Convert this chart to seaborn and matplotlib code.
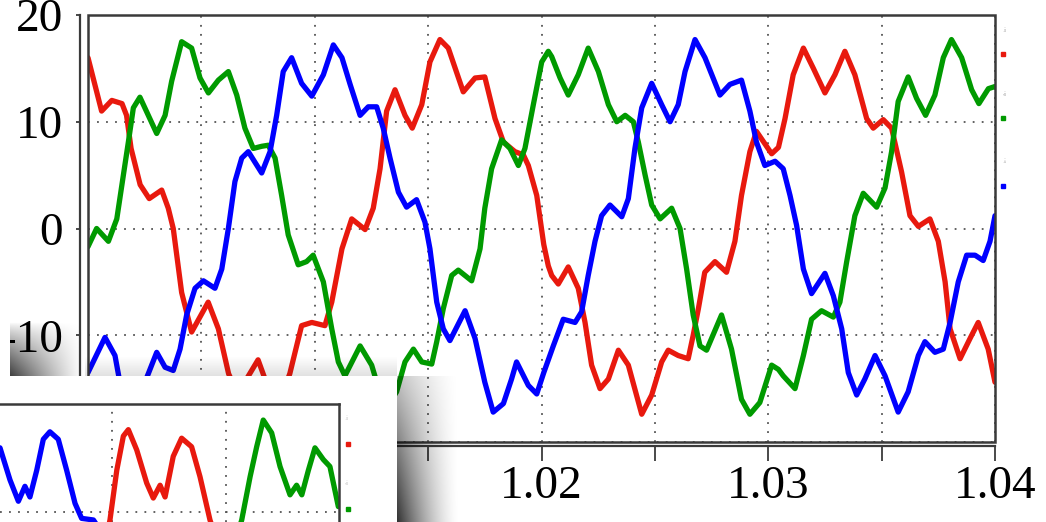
import numpy as np
import seaborn as sns
import matplotlib.pyplot as plt
from matplotlib.patches import Rectangle

# three phase currents (time in s, current in A)
red_t = [1.0000, 1.0006, 1.00105, 1.0015, 1.0017, 1.0019, 1.0023, 1.0027, 1.00325, 1.00354,
         1.00376, 1.00413, 1.00457, 1.0053, 1.00575, 1.0062, 1.0066, 1.0075, 1.0083, 1.0089,
         1.00942, 1.00987, 1.01045, 1.01075, 1.0112, 1.01163, 1.01222, 1.01258, 1.01288, 1.01317,
         1.01354, 1.01398, 1.0143, 1.01472, 1.01508, 1.01552, 1.01589, 1.01655, 1.01707, 1.0175,
         1.01795, 1.01832, 1.01883, 1.0192, 1.01942, 1.01979, 1.0201, 1.0203, 1.02045, 1.02074,
         1.02118, 1.02162, 1.02192, 1.02221, 1.02258, 1.02295, 1.02339, 1.02383, 1.02442, 1.02486,
         1.0253, 1.02559, 1.02603, 1.02647, 1.02669, 1.02692, 1.0272, 1.02765, 1.02816, 1.02853,
         1.02882, 1.02919, 1.02948, 1.03015, 1.03045, 1.03074, 1.0311, 1.03155, 1.03199, 1.0325,
         1.03294, 1.03338, 1.03382, 1.03434, 1.03463, 1.03507, 1.03544, 1.03588, 1.03625, 1.03662,
         1.03713, 1.0375, 1.0378, 1.03802, 1.03846, 1.0389, 1.03926, 1.0397, 1.0400]
red_v = [16.0, 11.0, 12.0, 11.7, 10.6, 7.5, 4.1, 2.8, 3.6, 1.9,
         0.0, -6.0, -9.7, -6.9, -9.4, -13.6, -15.5, -12.3, -17.0, -13.6,
         -9.1, -8.8, -9.1, -6.9, -1.9, 0.9, -0.1, 1.9, 5.6, 11.0,
         13.0, 10.6, 9.4, 11.6, 15.6, 17.7, 16.9, 12.8, 14.1, 14.2,
         10.3, 8.1, 7.2, 6.9, 5.9, 3.1, -1.5, -3.5, -4.4, -5.2,
         -3.6, -5.6, -8.8, -12.8, -15.0, -14.1, -11.4, -12.8, -17.4, -15.6,
         -12.5, -11.4, -11.9, -12.2, -10.0, -7.5, -4.1, -3.1, -4.1, -1.2,
         3.1, 7.2, 9.1, 7.0, 7.6, 10.3, 14.4, 16.9, 15.0, 12.7,
         14.4, 16.6, 14.4, 10.3, 9.4, 10.2, 9.4, 5.3, 1.2, 0.2,
         0.9, -1.2, -5.0, -9.4, -12.2, -10.3, -8.8, -11.3, -14.4]

green_t = [1.0000, 1.00038, 1.0009, 1.00127, 1.00156, 1.00178, 1.0020, 1.00229, 1.00266, 1.00303,
           1.0034, 1.00369, 1.00413, 1.00457, 1.00494, 1.00531, 1.00575, 1.00619, 1.00656, 1.00692,
           1.00729, 1.00766, 1.00795, 1.00825, 1.00854, 1.00883, 1.00927, 1.00964, 1.00993, 1.01038,
           1.01075, 1.01104, 1.01133, 1.0120, 1.01251, 1.0131, 1.01361, 1.01398, 1.01435, 1.01472,
           1.01516, 1.01538, 1.01567, 1.01604, 1.01633, 1.01692, 1.01729, 1.0175, 1.0178, 1.01824,
           1.01861, 1.01898, 1.01927, 1.01964, 1.02001, 1.0203, 1.02045, 1.02082, 1.02118, 1.02162,
           1.02206, 1.02251, 1.02295, 1.02332, 1.02369, 1.02405, 1.02427, 1.02457, 1.02486, 1.02523,
           1.02574, 1.02611, 1.0264, 1.02669, 1.02699, 1.02728, 1.02794, 1.02838, 1.02882, 1.02919,
           1.02963, 1.03015, 1.03045, 1.03066, 1.03118, 1.03155, 1.03191, 1.03235, 1.03287, 1.03316,
           1.03346, 1.03382, 1.03419, 1.03478, 1.03515, 1.03544, 1.03573, 1.03617, 1.03654, 1.03694,
           1.03735, 1.03772, 1.03808, 1.03853, 1.03897, 1.03929, 1.03971, 1.0400]
green_v = [-1.7, 0.0, -1.2, 0.9, 5.0, 8.1, 11.3, 12.3, 10.6, 8.9,
           10.6, 13.8, 17.5, 16.9, 14.1, 12.7, 13.9, 14.7, 12.5, 9.4,
           7.5, 7.7, 7.8, 6.6, 3.1, -0.6, -3.4, -3.1, -2.5, -5.0,
           -9.4, -12.5, -13.8, -11.0, -12.8, -17.0, -15.3, -12.5, -11.3, -12.5,
           -12.7, -10.6, -7.5, -4.4, -3.9, -4.9, -1.9, 1.9, 5.6, 8.3,
           7.5, 5.9, 7.5, 11.6, 15.6, 16.6, 16.1, 14.1, 12.5, 14.4,
           16.9, 14.7, 11.6, 10.0, 10.6, 10.0, 8.1, 5.0, 2.2, 0.9,
           1.9, 0.0, -3.8, -8.1, -11.0, -11.4, -8.1, -11.3, -16.0, -17.4,
           -16.3, -12.8, -13.2, -13.8, -15.0, -11.9, -8.5, -7.7, -8.3, -6.9,
           -3.1, 1.2, 3.3, 2.0, 3.8, 7.2, 11.9, 14.2, 12.2, 10.6,
           12.5, 16.0, 17.7, 16.0, 13.0, 11.7, 13.1, 13.3]

blue_t = [1.0000, 1.00075, 1.00119, 1.0015, 1.0019, 1.0023, 1.00266, 1.00303, 1.0034, 1.00376,
          1.00406, 1.00435, 1.00472, 1.00509, 1.0056, 1.0059, 1.00619, 1.00648, 1.00678, 1.00707,
          1.00766, 1.00803, 1.00832, 1.00861, 1.00898, 1.00942, 1.00987, 1.01038, 1.01082, 1.0112,
          1.01156, 1.0120, 1.01236, 1.01273, 1.01302, 1.01332, 1.01369, 1.01405, 1.01449, 1.01486,
          1.01508, 1.01538, 1.01567, 1.01596, 1.01663, 1.01707, 1.0175, 1.01787, 1.01832, 1.01868,
          1.0189, 1.01942, 1.01979, 1.0201, 1.02052, 1.02096, 1.02148, 1.02177, 1.02206, 1.02236,
          1.02265, 1.02302, 1.02354, 1.02383, 1.02412, 1.02442, 1.02486, 1.0253, 1.02567, 1.02603,
          1.02633, 1.02677, 1.02721, 1.02787, 1.02831, 1.02882, 1.02919, 1.02948, 1.02985, 1.0303,
          1.03066, 1.03096, 1.03125, 1.03155, 1.03191, 1.0325, 1.03287, 1.03324, 1.03353, 1.0339,
          1.03426, 1.03471, 1.03515, 1.03573, 1.03617, 1.03662, 1.03691, 1.03735, 1.03772, 1.03802,
          1.03838, 1.03875, 1.03912, 1.03948, 1.03978, 1.0400]
blue_v = [-13.5, -10.2, -11.9, -15.5, -17.0, -15.5, -13.6, -11.6, -13.0, -13.3,
          -11.3, -8.1, -5.6, -4.9, -5.6, -3.8, 0.0, 4.4, 6.6, 7.2,
          5.2, 7.2, 10.6, 14.7, 16.0, 13.6, 12.4, 14.4, 17.2, 16.0,
          13.5, 10.6, 11.4, 11.4, 9.4, 6.6, 3.4, 2.0, 2.7, 0.6,
          -1.9, -6.9, -9.4, -10.5, -7.7, -10.3, -14.4, -17.2, -16.4, -14.1,
          -12.5, -14.7, -15.5, -13.5, -11.0, -8.5, -8.8, -7.8, -4.4, -1.2,
          1.2, 2.2, 1.1, 2.8, 7.5, 11.3, 13.6, 11.6, 10.0, 11.6,
          14.7, 17.7, 16.0, 12.5, 13.5, 13.9, 11.0, 8.1, 5.9, 6.3,
          5.6, 3.1, 0.3, -3.8, -6.1, -4.2, -6.3, -9.4, -13.5, -15.6,
          -14.1, -11.9, -13.8, -17.2, -15.3, -11.9, -10.6, -11.6, -11.3, -8.8,
          -5.0, -2.5, -2.5, -3.0, -1.2, 1.2]

# the second capture pasted over the lower left corner (only its top right part shows)
ins_blue_t = [1.02505, 1.02549, 1.02586, 1.02615, 1.02637, 1.02667, 1.02696, 1.02725, 1.02762,
              1.02799, 1.02836, 1.02865, 1.02917, 1.02947]
ins_blue_v = [16.0, 13.0, 11.0, 12.4, 11.4, 13.9, 16.8, 17.5, 16.8, 13.9, 10.8, 9.4, 9.25, 8.3]
ins_red_t = [1.02981, 1.0299, 1.0302, 1.03049, 1.03071, 1.03108, 1.03152, 1.03181, 1.03211,
             1.03233, 1.03269, 1.03306, 1.0335, 1.03387, 1.03431, 1.03449]
ins_red_v = [8.3, 9.25, 13.9, 17.1, 17.7, 15.8, 12.7, 11.3, 12.5, 11.4, 15.2, 16.9, 16.1, 13.3,
             9.25, 8.1]
ins_green_t = [1.03555, 1.03571, 1.03608, 1.03637, 1.03666, 1.03703, 1.0374, 1.03784, 1.03813,
               1.03836, 1.03865, 1.03894, 1.03931, 1.0396, 1.03997]
ins_green_v = [8.1, 9.25, 13.3, 16.1, 18.6, 17.4, 14.25, 11.6, 12.5, 11.6, 13.9, 16.0, 14.9,
               14.25, 10.5]

# tick labels; the ones under the pasted capture are not visible
x_major = [1.00, 1.01, 1.02, 1.03, 1.04]
x_labels = ['', '', '1.02', '1.03', '1.04']
x_minor = [1.005, 1.015, 1.025, 1.035]
y_ticks = [-20, -10, 0, 10, 20]
y_labels = ['', '-10', '0', '10', '20']

RED, GREEN, BLUE = '#e8190e', '#009a00', '#0000ff'
FRAME = '#3a3a3a'
W, H = 1046, 522

sns.set_style('white')
plt.rcParams['font.family'] = ['Liberation Serif', 'DejaVu Serif']

fig = plt.figure(figsize=(W / 100, H / 100), dpi=100)
ax = fig.add_axes([88 / W, 1 - 442 / H, 907 / W, 427 / H])

for t, v, c in [(red_t, red_v, RED), (green_t, green_v, GREEN), (blue_t, blue_v, BLUE)]:
    sns.lineplot(x=t, y=v, color=c, lw=3.8, ax=ax, estimator=None, sort=False)

ax.set_xlim(1.0, 1.04)
ax.set_ylim(-20, 20)
ax.set_xticks(x_major)
ax.set_xticklabels(x_labels)
ax.set_xticks(x_minor, minor=True)
ax.set_yticks(y_ticks)
ax.set_yticklabels(y_labels)
ax.grid(True, which='both', axis='x', color='#555555', lw=1.3, ls=(0, (1, 4)))
ax.grid(True, which='major', axis='y', color='#555555', lw=1.3, ls=(0, (1, 4)))
ax.tick_params(axis='x', which='both', direction='out', length=11, width=1.3,
               color=FRAME, labelcolor='black', labelsize=34, pad=3, bottom=True)
ax.tick_params(axis='y', direction='out', length=3, width=1.3, color=FRAME,
               labelcolor='black', labelsize=34, pad=9, left=True)
for s in ['left', 'bottom']:
    ax.spines[s].set_color(FRAME)
    ax.spines[s].set_linewidth(1.6)
ax.spines['left'].set_position(('outward', 6))
ax.spines['bottom'].set_position(('outward', 3))
ax.spines['top'].set_visible(False)
ax.spines['right'].set_visible(False)
ax.add_patch(Rectangle((0, 0), 1, 1, transform=ax.transAxes, fill=False, ec=FRAME,
                       lw=1.8, clip_on=False, zorder=5))
ax.set_xlabel('')
ax.set_ylabel('')

# overlay in pixel units: white card, its shadow and the little legend marks
ov = fig.add_axes([0, 0, 1, 1], zorder=3)
ov.patch.set_alpha(0)
ov.axis('off')


def shade(x0, x1, y0, y1, alpha):
    rgba = np.zeros(alpha.shape + (4,))
    rgba[..., 3] = alpha
    ov.imshow(rgba, extent=(x0, x1, y1, y0), aspect='auto', interpolation='bilinear', zorder=1)


gx = np.linspace(0, 1, 60)[None, :]
gy = np.linspace(0, 1, 80)[:, None]
shade(397, 460, 376, 522, 0.8 * (1 - gx) ** 1.5 * (0.3 + 0.7 * gy))
shade(10, 85, 322, 376, 0.75 * (1 - gx) ** 1.2 * gy ** 0.8)
shade(85, 397, 356, 376, 0.12 * gy * np.ones_like(gx))
ov.add_patch(Rectangle((0, 376), 397, 146, fc='white', ec='none', zorder=2))
ov.add_patch(Rectangle((0, 322), 10, 54, fc='white', ec='none', zorder=2))

for y, c in [(54, RED), (118, GREEN), (186, BLUE)]:
    ov.plot([1003], [y], 's', color=c, ms=2.2, zorder=3)
for y, lab in [(28, 'ia :'), (92, 'ib :'), (160, 'ic :')]:
    ov.text(1006, y, lab, rotation=90, fontsize=3, color='#999999', ha='center', va='center')
for y, c in [(444, RED), (509, GREEN)]:
    ov.plot([348], [y], 's', color=c, ms=2.2, zorder=3)
for y, lab in [(416, 'ia :'), (481, 'ib :')]:
    ov.text(348, y, lab, rotation=90, fontsize=3, color='#bbbbbb', ha='center', va='center')
ov.set_xlim(0, W)
ov.set_ylim(H, 0)

ins = fig.add_axes([0, 0, 339 / W, 118 / H], zorder=4)
ins.patch.set_alpha(0)
for t, v, c in [(ins_blue_t, ins_blue_v, BLUE), (ins_red_t, ins_red_v, RED),
                (ins_green_t, ins_green_v, GREEN)]:
    sns.lineplot(x=t, y=v, color=c, lw=3.8, ax=ins, estimator=None, sort=False)
ins.set_xlim(1.02505, 1.04)
ins.set_ylim(9.06, 20.1)
ins.set_xticks([1.03, 1.035])
ins.set_yticks([10])
ins.grid(True, color='#555555', lw=1.3, ls=(0, (1, 4)))
ins.tick_params(length=0, labelbottom=False, labelleft=False)
ins.spines['left'].set_visible(False)
ins.spines['bottom'].set_visible(False)
for s in ['top', 'right']:
    ins.spines[s].set_color(FRAME)
    ins.spines[s].set_linewidth(1.8)
ins.set_xlabel('')
ins.set_ylabel('')

fig.savefig('out.png', dpi=100)
